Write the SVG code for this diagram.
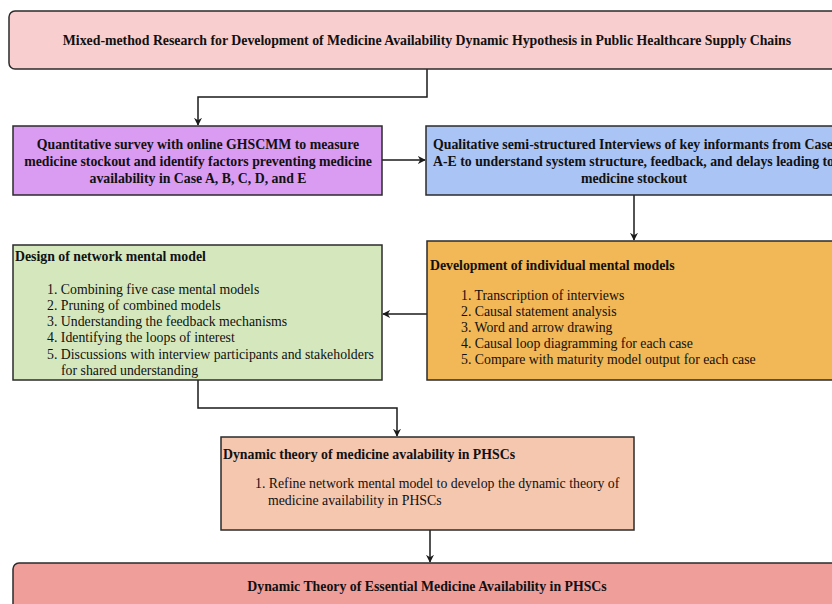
<svg xmlns="http://www.w3.org/2000/svg" width="832" height="604" viewBox="0 0 832 604">
<defs>
<style>
.box{stroke:#2b2b2b;stroke-width:1.5}
.t{font-family:"Liberation Serif","Times New Roman",serif;font-size:13.8px;fill:#111}
.b{font-weight:bold}
.c{text-anchor:middle}
.conn{fill:none;stroke:#1a1a1a;stroke-width:1.5}
</style>
<marker id="arr" viewBox="0 0 10 10" refX="9" refY="5" markerWidth="8" markerHeight="8" markerUnits="userSpaceOnUse" orient="auto">
<path d="M0,0 L10,5 L0,10 L3,5 Z" fill="#1a1a1a"/>
</marker>
</defs>
<rect width="832" height="604" fill="#ffffff"/>

<g id="connectors">
<path class="conn" d="M427,69 V97 H198 V125" marker-end="url(#arr)"/>
<path class="conn" d="M382,160 H425" marker-end="url(#arr)"/>
<path class="conn" d="M634,195 V240" marker-end="url(#arr)"/>
<path class="conn" d="M427,314 H383" marker-end="url(#arr)"/>
<path class="conn" d="M198,380 V408 H397 V436" marker-end="url(#arr)"/>
<path class="conn" d="M430,530 V562" marker-end="url(#arr)"/>
</g>

<g id="top">
<rect class="box" x="9" y="11" width="840" height="58" rx="6" fill="#f8cece"/>
<text class="t b c" x="427" y="45">Mixed-method Research for Development of Medicine Availability Dynamic Hypothesis in Public Healthcare Supply Chains</text>
</g>

<g id="quant">
<rect class="box" x="13" y="126" width="369" height="69" fill="#da9cf2"/>
<text class="t b c" x="198" y="149">Quantitative survey with online GHSCMM to measure</text>
<text class="t b c" x="198" y="166">medicine stockout and identify factors preventing medicine</text>
<text class="t b c" x="198" y="183">availability in Case A, B, C, D, and E</text>
</g>

<g id="qual">
<rect class="box" x="426" y="126" width="420" height="69" fill="#aac4f5"/>
<text class="t b" x="433" y="149">Qualitative semi-structured Interviews of key informants from Case</text>
<text class="t b" x="433" y="166">A-E to understand system structure, feedback, and delays leading to</text>
<text class="t b c" x="634" y="183">medicine stockout</text>
</g>

<g id="individual">
<rect class="box" x="427" y="241" width="420" height="139" fill="#f2b756"/>
<text class="t b" x="430" y="270">Development of individual mental models</text>
<text class="t" x="461" y="300">1. Transcription of interviews</text>
<text class="t" x="461" y="316">2. Causal statement analysis</text>
<text class="t" x="461" y="332">3. Word and arrow drawing</text>
<text class="t" x="461" y="348">4. Causal loop diagramming for each case</text>
<text class="t" x="461" y="364">5. Compare with maturity model output for each case</text>
</g>

<g id="network">
<rect class="box" x="13" y="245" width="369" height="135" fill="#d5e8bd"/>
<text class="t b" x="15" y="261">Design of network mental model</text>
<text class="t" x="47" y="294">1. Combining five case mental models</text>
<text class="t" x="47" y="310">2. Pruning of combined models</text>
<text class="t" x="47" y="326">3. Understanding the feedback mechanisms</text>
<text class="t" x="47" y="342">4. Identifying the loops of interest</text>
<text class="t" x="47" y="359">5. Discussions with interview participants and stakeholders</text>
<text class="t" x="61" y="375">for shared understanding</text>
</g>

<g id="theory">
<rect class="box" x="221" y="437" width="413" height="93" fill="#f6c7af"/>
<text class="t b" x="223" y="459">Dynamic theory of medicine avalability in PHSCs</text>
<text class="t" x="255" y="488">1. Refine network mental model to develop the dynamic theory of</text>
<text class="t" x="268" y="505">medicine availability in PHSCs</text>
</g>

<g id="final">
<rect class="box" x="13" y="563" width="840" height="60" rx="6" fill="#f09e9a"/>
<text class="t b c" x="427" y="591">Dynamic Theory of Essential Medicine Availability in PHSCs</text>
</g>
</svg>
